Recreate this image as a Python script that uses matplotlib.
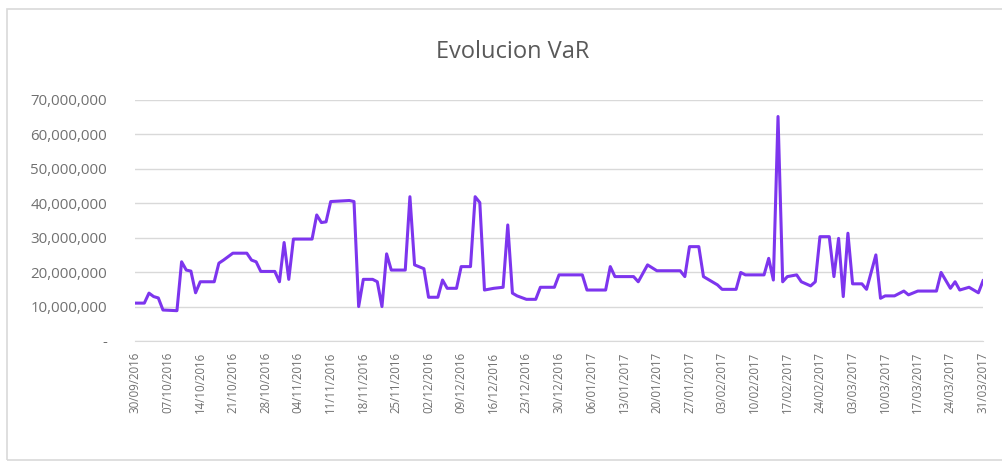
import numpy as np
import pandas as pd
import matplotlib
matplotlib.use('Agg')
import matplotlib.pyplot as plt
import matplotlib.dates as mdates
from matplotlib.ticker import FuncFormatter

plt.rcParams['font.family'] = ['Open Sans', 'DejaVu Sans']

# vertices of the VaR series: days after 30/09/2016 and value in millions
start = pd.Timestamp('2016-09-30')
dias = [0, 2, 3, 4, 5, 6, 9, 10, 11, 12, 13, 14, 17, 18, 19, 21, 24, 25, 26, 27,
        30, 31, 32, 33, 34, 38, 39, 40, 41, 42, 46, 47, 48, 49, 51, 52, 53, 54, 55, 58,
        59, 60, 62, 63, 65, 66, 67, 69, 70, 72, 73, 74, 75, 77, 79, 80, 81, 82, 84, 86,
        87, 90, 91, 96, 97, 101, 102, 103, 107, 108, 110, 112, 117, 118, 119, 121, 122, 123, 125, 126,
        129, 130, 131, 135, 136, 137, 138, 139, 140, 142, 143, 145, 146, 147, 149, 150, 151, 152, 153, 154,
        156, 157, 159, 160, 161, 163, 165, 166, 168, 172, 173, 175, 176, 177, 179, 181, 182]
var_m = [11.0, 11.0, 13.9, 12.9, 12.5, 9.0, 8.8, 23.0, 20.6, 20.3, 14.0, 17.2, 17.2, 22.6, 23.5, 25.5, 25.5, 23.5, 23.0, 20.2,
         20.2, 17.2, 28.6, 17.9, 29.6, 29.6, 36.6, 34.4, 34.6, 40.5, 40.8, 40.5, 10.0, 17.9, 17.9, 17.2, 10.0, 25.3, 20.6, 20.6,
         41.9, 22.1, 21.0, 12.7, 12.7, 17.7, 15.3, 15.3, 21.6, 21.6, 41.9, 40.2, 14.8, 15.3, 15.6, 33.7, 13.9, 13.1, 12.1, 12.1,
         15.6, 15.6, 19.2, 19.2, 14.8, 14.8, 21.6, 18.7, 18.7, 17.2, 22.1, 20.4, 20.4, 18.7, 27.4, 27.4, 18.7, 17.9, 16.3, 15.0,
         15.0, 19.9, 19.2, 19.2, 24.0, 17.7, 65.2, 17.2, 18.7, 19.2, 17.2, 16.0, 17.2, 30.3, 30.3, 18.7, 29.8, 12.9, 31.3, 16.6,
         16.6, 15.0, 25.0, 12.4, 13.1, 13.1, 14.5, 13.4, 14.5, 14.5, 19.9, 15.3, 17.2, 14.8, 15.6, 14.0, 17.5]

fechas = start + pd.to_timedelta(dias, unit='D')
valores = np.array(var_m) * 1e6

fig = plt.figure(figsize=(10.03, 4.65), dpi=100)
ax = fig.add_axes([0.1346, 0.2667, 0.8455, 0.5183])

ax.plot(fechas, valores, color='#7D35EE', linewidth=2.2, solid_joinstyle='round')

ax.set_ylim(0, 70e6)
ax.set_yticks(np.arange(0, 70e6 + 1, 10e6))
ax.yaxis.set_major_formatter(FuncFormatter(lambda v, p: '-' if v == 0 else f'{v:,.0f}'))
ax.set_xlim(pd.Timestamp('2016-09-30'), pd.Timestamp('2017-03-31'))
ax.set_xticks(pd.date_range('2016-09-30', '2017-03-31', freq='7D'))
ax.xaxis.set_major_formatter(mdates.DateFormatter('%d/%m/%Y'))
plt.setp(ax.get_xticklabels(), rotation=90)

ax.grid(axis='y', color='#D9D9D9', linewidth=1)
ax.set_axisbelow(True)
for s in ['top', 'right', 'left']:
    ax.spines[s].set_visible(False)
ax.spines['bottom'].set_color('#D9D9D9')
ax.tick_params(axis='y', length=0, labelsize=10.8, labelcolor='#707070', pad=20)
ax.tick_params(axis='x', length=0, labelsize=8.3, labelcolor='#707070', pad=8)

fig.text(0.511, 0.888, 'Evolucion VaR', ha='center', va='center', fontsize=17, color='#595959')

# borde del área del gráfico
fig.patches.append(plt.Rectangle((0.007, 0.011), 1.0, 0.97, transform=fig.transFigure,
                                 fill=False, edgecolor='#D9D9D9', linewidth=1.2))

fig.savefig('out.png', dpi=100)
